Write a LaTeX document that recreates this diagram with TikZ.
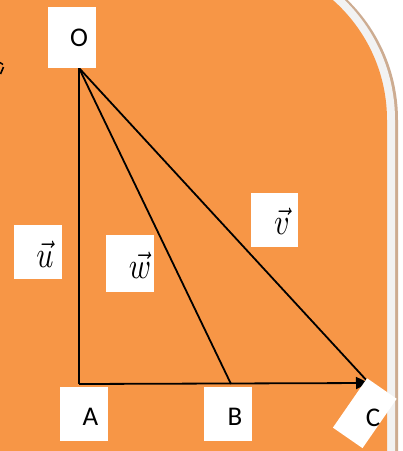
\documentclass[tikz,border=0pt]{standalone}
\usepackage{fontspec}
\usepackage{graphicx}
\setmainfont{Carlito}
\usetikzlibrary{arrows.meta}
\definecolor{orangebg}{HTML}{F79646}
\definecolor{rimgrey}{HTML}{F2F2F2}
\definecolor{rimtan}{RGB}{205,172,145}
\newcommand{\bigvec}[1]{\scalebox{3.0}[3.7]{$\vec{#1}$}}
\tikzset{
  wbox/.style={rectangle, fill=white, draw=none, inner sep=0pt},
  ptlab/.style={inner sep=0pt, font=\fontsize{27}{27}\selectfont},
  veclab/.style={inner sep=0pt, font=\fontsize{10}{10}\selectfont},
  seg/.style={line width=1.8pt, black},
}
\begin{document}
\begin{tikzpicture}[x=1pt,y=-1pt]
\useasboundingbox (0,0) rectangle (403,451);
\fill[white] (0,0) rectangle (403,451);
% shadow rim (tan), offset to the right
\fill[rimtan] (-10,-60) -- (230,-48) .. controls (322.8,-48) and (398,27.2) .. (398,120) -- (398,470) -- (-10,470) -- cycle;
% light grey rim
\fill[rimgrey] (-10,-60) -- (227,-48) .. controls (319.8,-48) and (395,27.2) .. (395,120) -- (395,470) -- (-10,470) -- cycle;
% orange panel
\fill[orangebg] (-10,-60) -- (-10,-40) -- (227,-40) .. controls (315.4,-40) and (387,31.6) .. (387,120) -- (387,470) -- (-10,470) -- cycle;
% small cut-off mark at the left edge
\draw[line width=1.4pt, black] (0,62.5) -- (3,64.5);
\draw[line width=1.6pt, black] (3.5,67) -- (0.5,74);
% points
\coordinate (Opt) at (79,68);
\coordinate (Apt) at (79,384);
\coordinate (Bpt) at (231,384);
\coordinate (Cpt) at (369,383);
% segments
\draw[seg] (Opt) -- (Apt);
\draw[seg] (Opt) -- (Bpt);
\draw[seg] (Opt) -- (Cpt);
\draw[seg, -{Triangle[length=13pt,width=12pt]}] (Apt) -- (Cpt);
% label boxes
\node[wbox, minimum width=48pt, minimum height=61pt] (boxO) at (72,37.5) {};
\node[ptlab] (labO) at (79,37.5) {O};
\node[wbox, minimum width=48pt, minimum height=54pt] (boxA) at (84,414) {};
\node[ptlab] (labA) at (90.5,416.5) {A};
\node[wbox, minimum width=48pt, minimum height=54pt] (boxB) at (228,414) {};
\node[ptlab] (labB) at (235,416.5) {B};
\node[wbox, minimum width=36pt, minimum height=60pt, rotate=-34.7] (boxC) at (364.8,413.2) {};
\node[ptlab] (labC) at (373,418) {C};
\node[wbox, minimum width=48pt, minimum height=54pt] (boxu) at (38,252) {};
\node[veclab] (labu) at (45,254) {\bigvec{u}};
\node[wbox, minimum width=48pt, minimum height=57pt] (boxw) at (130,263.5) {};
\node[veclab] (labw) at (140,265) {\bigvec{w}};
\node[wbox, minimum width=47pt, minimum height=54pt] (boxv) at (274.5,220) {};
\node[veclab] (labv) at (282,221) {\bigvec{v}};
\end{tikzpicture}
\end{document}
